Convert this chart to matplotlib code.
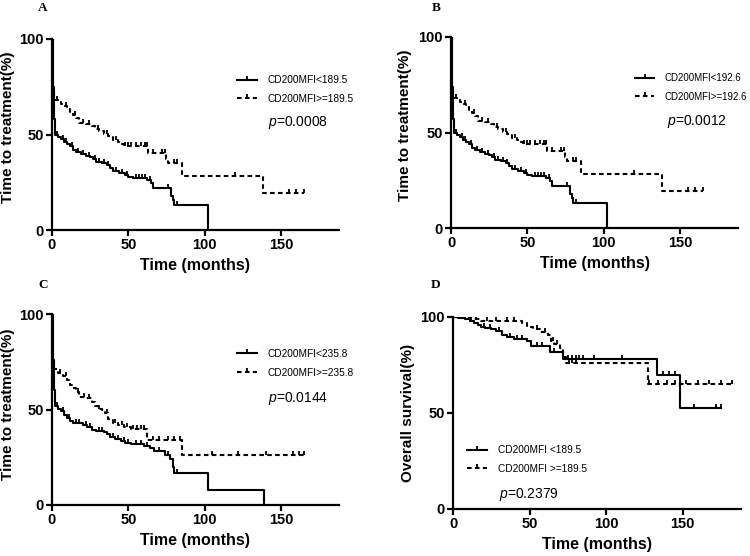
import numpy as np
import matplotlib
matplotlib.use("Agg")
import matplotlib.pyplot as plt
from matplotlib.path import Path
from matplotlib.lines import Line2D

plt.rcParams['font.family'] = ['Liberation Sans', 'DejaVu Sans']
plt.rcParams['mathtext.fontset'] = 'custom'
plt.rcParams['mathtext.it'] = 'Liberation Sans:italic'
plt.rcParams['mathtext.rm'] = 'Liberation Sans'

# ---------------- data ----------------
# Panel A
a_low_t = [0, 0.5, 1, 2, 4, 6, 8, 10, 12, 14, 16, 19, 22, 25, 27, 29, 33, 36, 38, 40, 44, 48, 50, 53, 62, 65, 66, 78, 79, 80, 102]
a_low_s = [100, 75, 58, 50, 48.5, 47.5, 46, 45, 44, 42, 41, 40, 39, 38, 37, 35.5, 35, 34, 32.5, 31, 30, 29, 28, 27.3, 26, 24.5, 22, 18, 15.5, 13, 0]
a_low_end = 102
a_low_cens = [3, 7, 9, 13, 17, 20, 24, 28, 31, 34, 37, 42, 46, 49, 55, 57, 59, 61, 64, 76, 82]
a_high_t = [0, 0.5, 1.5, 4, 6, 8, 10, 12, 14, 16, 18, 22, 26, 28, 31, 34, 37, 40, 43, 45, 47, 63, 75, 76, 85, 138]
a_high_s = [100, 72, 68, 67, 66, 65, 63.5, 62, 60, 58.5, 56, 55.5, 54.5, 53, 52, 50.5, 49, 47, 46, 45, 44, 40.5, 37, 35, 28.5, 19.5]
a_high_end = 165
a_high_cens = [3, 9, 15, 20, 24, 30, 36, 42, 48, 50, 52, 55, 58, 61, 62, 66, 72, 74, 80, 82, 120, 155, 160, 165]

# Panel B
b_low_t = [0, 0.5, 1, 2, 4, 6, 8, 10, 12, 14, 16, 19, 22, 25, 27, 29, 33, 36, 38, 40, 44, 48, 50, 53, 62, 65, 66, 78, 79, 80, 102]
b_low_s = [100, 74, 57, 50, 48.5, 47.5, 46, 45, 44, 42, 41, 40, 39, 38, 37, 35.5, 35, 34, 32.5, 31, 30, 29, 28, 27.3, 26, 24.5, 22, 18, 15.5, 13, 0]
b_low_end = 102
b_low_cens = [3, 7, 9, 13, 17, 20, 24, 28, 31, 34, 37, 42, 46, 49, 55, 57, 59, 61, 64, 76, 82]
b_high_t = [0, 0.5, 1.5, 4, 6, 8, 10, 12, 14, 16, 18, 22, 26, 28, 31, 34, 37, 40, 43, 45, 47, 63, 75, 76, 85, 138]
b_high_s = [100, 72, 68, 67, 66, 65, 63.5, 62, 60, 58.5, 56, 55.5, 54.5, 53, 52, 50.5, 49, 47, 46, 45, 44, 40.5, 37, 35, 28.5, 19.5]
b_high_end = 165
b_high_cens = [3, 9, 15, 20, 24, 30, 36, 42, 48, 50, 52, 55, 58, 61, 62, 66, 72, 74, 80, 82, 120, 155, 160, 165]

# Panel C
c_low_t = [0, 0.5, 1, 2, 4, 6, 8, 10, 12, 14, 20, 23, 26, 29, 34, 36, 38, 41, 45, 48, 52, 60, 64, 67, 74, 77, 79, 80, 102, 139]
c_low_s = [100, 75, 60, 52, 50.5, 49, 47, 45.5, 44, 43, 42, 41, 39.5, 38.5, 38, 37, 35.5, 34.5, 33.5, 32.5, 32, 31, 30, 28.5, 26, 24, 20, 17, 8, 0]
c_low_end = 139
c_low_cens = [3, 7, 11, 16, 18, 22, 25, 31, 33, 40, 43, 47, 50, 55, 58, 62, 70, 76, 82]
c_high_t = [0, 0.5, 1.5, 4, 7, 10, 12, 14, 16, 18, 22, 26, 28, 30, 33, 35, 37, 40, 43, 47, 52, 62, 85]
c_high_s = [100, 76, 71, 69, 67.5, 65.5, 63, 61, 59, 56.5, 56, 54, 52, 50.5, 49.5, 48, 45, 43, 42, 41, 40, 34, 26]
c_high_end = 165
c_high_cens = [5, 9, 17, 21, 24, 31, 36, 41, 46, 49, 53, 56, 58, 60, 66, 70, 76, 80, 84, 105, 122, 140, 158, 162, 165]

# Panel D
d_low_t = [0, 3, 8, 11, 14, 16, 18, 21, 25, 28, 32, 35, 40, 48, 51, 63, 72, 133, 148]
d_low_s = [100, 99.5, 99, 98, 97, 96, 95, 94.5, 93.5, 92.7, 90.5, 89.5, 88.5, 87.5, 85, 82, 78, 70, 52.5]
d_low_end = 175
d_low_cens = [5, 12, 20, 24, 30, 37, 42, 45, 55, 58, 66, 75, 78, 80, 82, 85, 92, 110, 137, 141, 145, 157, 172, 175]
d_high_t = [0, 5, 12, 18, 45, 48, 52, 57, 62, 64, 66, 70, 72, 74, 127]
d_high_s = [100, 99.5, 99, 98, 97, 95, 93.5, 92, 90.5, 87.5, 86, 84, 79, 76, 65]
d_high_end = 182
d_high_cens = [8, 15, 22, 28, 35, 40, 55, 60, 65, 68, 76, 78, 80, 128, 134, 140, 145, 152, 160, 167, 175, 182]

labels_a = ["CD200MFI<189.5", "CD200MFI>=189.5"]
labels_b = ["CD200MFI<192.6", "CD200MFI>=192.6"]
labels_c = ["CD200MFI<235.8", "CD200MFI>=235.8"]
labels_d = ["CD200MFI <189.5", "CD200MFI >=189.5"]
pvals = ["0.0008", "0.0012", "0.0144", "0.2379"]
ylabels = ["Time to treatment(%)", "Time to treatment(%)", "Time to treatment(%)", "Overall survival(%)"]
panel_letters = ["A", "B", "C", "D"]
xticks = [0, 50, 100, 150]
yticks = [0, 50, 100]

# ---------------- drawing ----------------
tick_marker = Path([(0, 0), (0, 1)], [Path.MOVETO, Path.LINETO])
LW = 1.5
DASH = (2.2, 1.6)


def draw_curve(ax, t, s, end, cens, dashed):
    tt = list(t) + [end]
    ss = list(s) + [s[-1]]
    kw = dict(color='black', lw=LW, where='post')
    line, = ax.step(tt, ss, **kw)
    if dashed:
        line.set_dashes(DASH)
    cens = np.asarray(cens, float)
    idx = np.searchsorted(np.asarray(t, float), cens, side='right') - 1
    cy = np.asarray(s, float)[idx]
    ax.plot(cens, cy, ls='none', marker=tick_marker, ms=6, mew=1.3, color='black')


def legend_handles():
    h1 = Line2D([], [], color='black', lw=LW, marker=tick_marker, ms=6, mew=1.3)
    h2 = Line2D([], [], color='black', lw=LW, marker=tick_marker, ms=6, mew=1.3)
    h2.set_dashes(DASH)
    return [h1, h2]


fig = plt.figure(figsize=(7.5, 5.56), dpi=100)
W, H = 750, 556


def make_ax(l, r, top, bot):
    return fig.add_axes([l / W, 1 - bot / H, (r - l) / W, (bot - top) / H])


axes = [make_ax(52, 339, 39, 230), make_ax(451, 738, 37, 228),
        make_ax(52, 339, 314, 505), make_ax(453, 741, 317, 509)]

data = [
    (a_low_t, a_low_s, a_low_end, a_low_cens, a_high_t, a_high_s, a_high_end, a_high_cens, labels_a),
    (b_low_t, b_low_s, b_low_end, b_low_cens, b_high_t, b_high_s, b_high_end, b_high_cens, labels_b),
    (c_low_t, c_low_s, c_low_end, c_low_cens, c_high_t, c_high_s, c_high_end, c_high_cens, labels_c),
    (d_low_t, d_low_s, d_low_end, d_low_cens, d_high_t, d_high_s, d_high_end, d_high_cens, labels_d),
]
leg_pos = [(0.645, 0.81), (0.641, 0.81), (0.645, 0.817), (0.049, 0.333)]
leg_size = [7.3, 7.0, 7.3, 7.3]
p_pos = [(0.753, 0.565), (0.753, 0.56), (0.753, 0.56), (0.16, 0.078)]
ylab_pos = [(-0.129, 0.54), (-0.136, 0.54), (-0.129, 0.53), (-0.132, 0.5)]
letter_pos = [(43, 8), (436, 8), (43, 285), (436, 285)]

for i, ax in enumerate(axes):
    lt, ls_, le, lc, ht, hs, he, hc, labs = data[i]
    draw_curve(ax, lt, ls_, le, lc, False)
    draw_curve(ax, ht, hs, he, hc, True)
    ax.set_xlim(0, 188)
    ax.set_ylim(0, 100)
    ax.set_xticks(xticks)
    ax.set_yticks(yticks)
    for sp in ['top', 'right']:
        ax.spines[sp].set_visible(False)
    for sp in ['left', 'bottom']:
        ax.spines[sp].set_linewidth(1.6)
    ax.tick_params(direction='out', length=4, width=1.6, labelsize=10.5, pad=2)
    for lab in ax.get_xticklabels() + ax.get_yticklabels():
        lab.set_fontweight('bold')
    ax.set_xlabel("Time (months)", fontsize=11.5, fontweight='bold', labelpad=4)
    ax.set_ylabel(ylabels[i], fontsize=11, fontweight='bold')
    ax.yaxis.set_label_coords(*ylab_pos[i])
    ax.legend(legend_handles(), labs, loc='upper left', bbox_to_anchor=leg_pos[i],
              frameon=False, fontsize=leg_size[i], handlelength=2.0, handletextpad=1.0,
              labelspacing=0.85, borderpad=0, borderaxespad=0, numpoints=1)
    ax.text(p_pos[i][0], p_pos[i][1], "$p$=" + pvals[i], transform=ax.transAxes,
            fontsize=10, va='center', ha='left')
    fig.text(letter_pos[i][0] / W, 1 - letter_pos[i][1] / H, panel_letters[i],
             family='Liberation Serif', fontweight='bold', fontsize=9.5,
             ha='center', va='center')

fig.savefig("out.png", dpi=100)
